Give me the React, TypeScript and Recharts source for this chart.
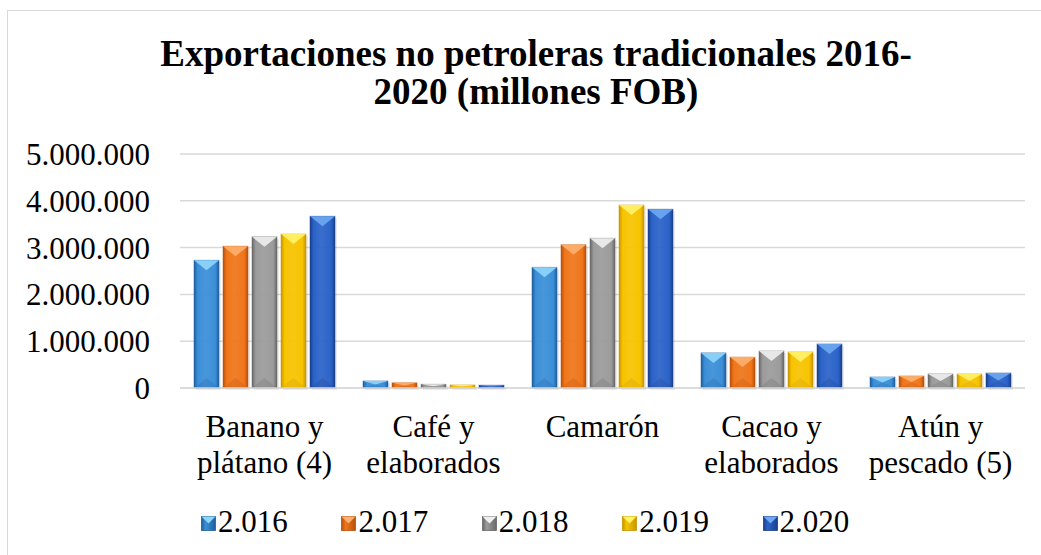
import { BarChart, Bar, XAxis, YAxis, CartesianGrid, Legend } from "recharts";

const categories = [
  "Banano y\nplátano (4)",
  "Café y\nelaborados",
  "Camarón",
  "Cacao y\nelaborados",
  "Atún y\npescado (5)",
];
const years = ["2.016", "2.017", "2.018", "2.019", "2.020"];

const v2016 = [2730000, 150000, 2580000, 750000, 235000];
const v2017 = [3030000, 110000, 3060000, 660000, 256000];
const v2018 = [3230000, 80000, 3200000, 790000, 300000];
const v2019 = [3290000, 65000, 3910000, 770000, 300000];
const v2020 = [3670000, 60000, 3820000, 940000, 320000];

const yTicks = [0, 1000000, 2000000, 3000000, 4000000, 5000000];

const seriesValues = [v2016, v2017, v2018, v2019, v2020];
const keys = ["s0", "s1", "s2", "s3", "s4"];

const data = categories.map((name, i) => {
  const row: Record<string, string | number> = { name };
  seriesValues.forEach((vals, s) => (row[keys[s]] = vals[i]));
  return row;
});

// colours: base, light bevel, dark edge
const base = ["#3b8fd8", "#f0761a", "#9c9c9c", "#f8c400", "#2b63c9"];
const light = ["#8fd6fb", "#ffb070", "#f0f0f0", "#fff36a", "#6ea8f3"];
const dark = ["#1f5f9e", "#b9500c", "#686868", "#c89600", "#1a3f8c"];

const FONT = "Liberation Serif, Tinos, DejaVu Serif, serif";

const fmt = (v: number) => String(v).replace(/\B(?=(\d{3})+(?!\d))/g, ".");

function BevelBar(props: any) {
  const { x, y, width: w, height: h, s } = props;
  if (!h || h <= 0) return null;
  const b = Math.min(10, h / 2);
  return (
    <g>
      <rect x={x + 2} y={y + 2} width={w} height={h} fill="#000" opacity={0.08} />
      <rect x={x} y={y} width={w} height={h} fill={`url(#g${s})`} stroke={dark[s]} strokeOpacity={0.6} strokeWidth={0.8} />
      <polygon points={`${x},${y} ${x + w},${y} ${x + w / 2},${y + b}`} fill={light[s]} opacity={0.9} />
      <polygon
        points={`${x},${y + h} ${x + w},${y + h} ${x + w / 2},${y + h - b}`}
        fill={dark[s]}
        opacity={0.25}
      />
    </g>
  );
}

function YTick(props: any) {
  const { x, y, payload } = props;
  return (
    <text x={x} y={y + 11} textAnchor="end" fontSize={31} fontFamily={FONT} fill="#000">
      {fmt(payload.value)}
    </text>
  );
}

function XTick(props: any) {
  const { x, y, payload } = props;
  const lines = String(payload.value).split("\n");
  return (
    <text x={x} y={y + 49} textAnchor="middle" fontSize={31} fontFamily={FONT} fill="#000">
      {lines.map((l, i) => (
        <tspan key={i} x={x} dy={i === 0 ? 0 : 36}>
          {l}
        </tspan>
      ))}
    </text>
  );
}

function LegendIcon({ s }: { s: number }) {
  return (
    <svg width={15} height={15} style={{ position: "absolute", left: 0, top: 14 }}>
      <defs>
        <linearGradient id={`lg${s}`} x1="0" y1="0" x2="1" y2="0">
          <stop offset="0%" stopColor={dark[s]} />
          <stop offset="30%" stopColor={base[s]} />
          <stop offset="100%" stopColor={dark[s]} />
        </linearGradient>
      </defs>
      <rect x={0.5} y={0.5} width={14} height={14} fill={`url(#lg${s})`} stroke={dark[s]} strokeWidth={0.8} />
      <polygon points="0.5,0.5 14.5,0.5 7.5,7.5" fill={light[s]} />
    </svg>
  );
}

function LegendContent() {
  return (
    <div style={{ position: "relative", height: 40, width: 1041, fontFamily: FONT, fontSize: 31 }}>
      {years.map((yr, s) => (
        <div key={yr} style={{ position: "absolute", left: 201 + s * 140.4, top: 0, height: 40 }}>
          <LegendIcon s={s} />
          <span style={{ position: "absolute", left: 17, top: 0, lineHeight: "40px", whiteSpace: "nowrap" }}>{yr}</span>
        </div>
      ))}
    </div>
  );
}

export default function App() {
  return (
    <div
      style={{
        position: "absolute",
        left: 0,
        top: 0,
        width: 1041,
        height: 555,
        overflow: "hidden",
        background: "#fff",
      }}
    >
      <div
        style={{
          position: "absolute",
          left: 7,
          top: 10,
          width: 1200,
          height: 700,
          border: "1.5px solid #d9d9d9",
        }}
      />
      <div
        style={{
          position: "absolute",
          left: 0,
          top: 35,
          width: 1072,
          textAlign: "center",
          fontFamily: FONT,
          fontWeight: "bold",
          fontSize: 37,
          lineHeight: "38px",
          color: "#000",
        }}
      >
        Exportaciones no petroleras tradicionales 2016-
        <br />
        2020 (millones FOB)
      </div>
      <div style={{ position: "absolute", left: 0, top: 0 }}>
        <BarChart
          width={1041}
          height={555}
          data={data}
          margin={{ top: 154, right: 16, bottom: 27, left: 0 }}
          barSize={25}
          barGap={4}
        >
          <defs>
            {base.map((c, s) => (
              <linearGradient key={s} id={`g${s}`} x1="0" y1="0" x2="1" y2="0">
                <stop offset="0%" stopColor={dark[s]} />
                <stop offset="15%" stopColor={c} />
                <stop offset="45%" stopColor={c} stopOpacity={0.92} />
                <stop offset="85%" stopColor={c} />
                <stop offset="100%" stopColor={dark[s]} />
              </linearGradient>
            ))}
          </defs>
          <CartesianGrid vertical={false} stroke="#d9d9d9" strokeWidth={1.5} />
          <XAxis
            dataKey="name"
            height={100}
            interval={0}
            axisLine={{ stroke: "#d9d9d9", strokeWidth: 1.5 }}
            tickLine={false}
            tickSize={0}
            tickMargin={0}
            tick={<XTick />}
          />
          <YAxis
            width={180}
            domain={[0, 5000000]}
            ticks={yTicks}
            axisLine={false}
            tickLine={false}
            tickSize={0}
            tickMargin={30}
            tick={<YTick />}
          />
          <Legend
            verticalAlign="bottom"
            content={() => <LegendContent />}
            wrapperStyle={{ left: 0, width: 1041, top: 502, bottom: "auto" }}
          />
          {keys.map((k, s) => (
            <Bar
              key={k}
              dataKey={k}
              name={years[s]}
              fill={base[s]}
              isAnimationActive={false}
              shape={(p: any) => <BevelBar {...p} s={s} />}
            />
          ))}
        </BarChart>
      </div>
    </div>
  );
}
